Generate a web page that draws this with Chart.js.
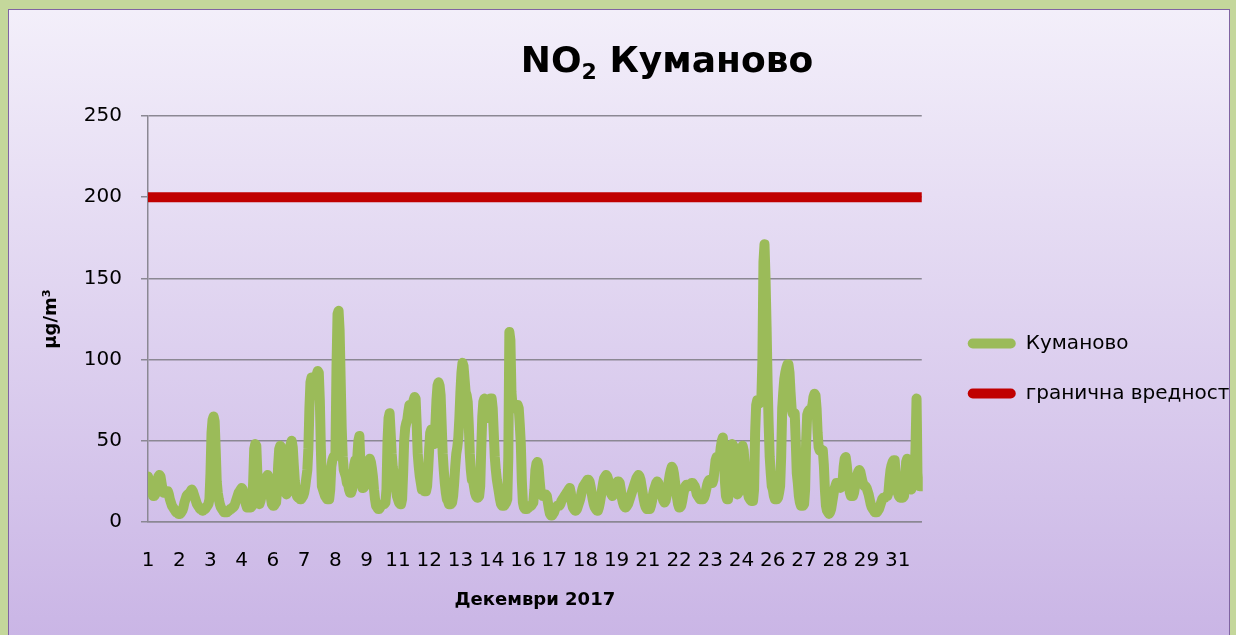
<!DOCTYPE html>
<html>
<head>
<meta charset="utf-8">
<script src="https://cdn.jsdelivr.net/npm/chart.js@4.4.1/dist/chart.umd.min.js"></script>
<style>
  html, body { margin: 0; padding: 0; }
  body { width: 1236px; height: 635px; overflow: hidden; background: #c4d79b; position: relative; }
  #frame { position: absolute; left: 8px; top: 9px; width: 1220px; height: 640px; border: 1px solid #8064a2;
           background: linear-gradient(to bottom, #f3effa 0%, #c9b4e5 100%); }
  #title { position: absolute; left: 0; top: 38px; width: 1334px; text-align: center; color: #000;
           font: bold 36px 'DejaVu Sans', sans-serif; line-height: 44px; }
  #title sub { font-size: 22px; vertical-align: -7px; line-height: 0; }
  #chart { position: absolute; left: 0; top: 0; }
</style>
</head>
<body>
<div id="frame"></div>
<canvas id="chart" width="1240" height="635"></canvas>
<div id="title">NO<sub>2</sub> Куманово</div>
<script>
// Декември 2017, часовни вредности (24 по ден)
const days = [1, 2, 3, 4, 5, 6, 7, 8, 9, 10, 11, 12, 13, 14, 15, 16, 17, 18, 19, 20, 21, 22, 23, 24, 25, 26, 27, 28, 29, 30, 31];

const week1 = [
  28, 26, 23, 20, 18, 16, 16, 17, 21, 26, 28, 29, 28, 24, 20, 18, 18, 19, 19, 19, 17, 14, 12, 10,
  9, 8, 7, 6, 6, 5, 5, 5, 6, 7, 9, 12, 14, 16, 17, 17, 18, 19, 20, 19, 17, 15, 13, 11,
  10, 9, 8, 8, 7, 7, 8, 8, 9, 10, 11, 14, 30, 55, 63, 65, 62, 45, 25, 18, 14, 11, 9, 8,
  7, 6, 6, 6, 6, 7, 7, 8, 8, 9, 9, 10, 12, 14, 16, 18, 19, 20, 21, 20, 17, 14, 11, 9,
  9, 9, 9, 9, 10, 25, 45, 48, 47, 30, 12, 11, 13, 16, 18, 20, 23, 26, 28, 29, 27, 22, 15, 11,
  10, 10, 11, 12, 20, 35, 45, 47, 46, 35, 24, 19, 18, 17, 18, 22, 35, 48, 50, 46, 35, 25, 19, 16,
  15, 15, 14, 14, 15, 16, 18, 22, 27, 32, 45, 70, 86, 89, 86, 84, 85, 88, 91, 93, 92, 75, 45, 22
];
const week2 = [
  20, 18, 16, 15, 14, 14, 14, 20, 34, 38, 40, 40, 42, 95, 128, 130, 118, 88, 58, 40, 32, 30, 28, 24,
  24, 20, 18, 18, 20, 25, 35, 38, 36, 40, 50, 53, 35, 24, 21, 21, 22, 25, 30, 35, 38, 39, 37, 33,
  28, 20, 14, 10, 9, 8, 8, 9, 10, 11, 11, 11, 12, 20, 50, 64, 67, 55, 42, 34, 30, 27, 22, 16,
  14, 12, 11, 11, 14, 30, 50, 58, 61, 63, 68, 72, 70, 66, 70, 75, 77, 76, 60, 42, 34, 28, 24, 20,
  20, 19, 19, 19, 22, 32, 45, 55, 57, 56, 50, 48, 60, 75, 84, 86, 84, 78, 60, 42, 32, 24, 18, 14,
  13, 11, 11, 11, 12, 16, 24, 34, 42, 46, 52, 64, 80, 92, 98, 96, 88, 80, 78, 74, 60, 42, 32, 26,
  26, 22, 18, 16, 15, 15, 16, 22, 45, 65, 74, 76, 74, 68, 64, 66, 72, 76, 76, 70, 55, 40, 32, 26
];
const week3 = [
  22, 18, 14, 11, 10, 10, 10, 11, 12, 14, 40, 117, 112, 80, 72, 71, 70, 71, 72, 72, 70, 60, 48, 25,
  12, 9, 8, 8, 8, 9, 9, 10, 10, 11, 12, 20, 32, 36, 37, 34, 26, 19, 17, 16, 16, 17, 17, 16,
  12, 8, 5, 4, 4, 5, 6, 8, 9, 10, 10, 10, 11, 13, 14, 15, 16, 17, 18, 19, 20, 21, 18, 12,
  9, 8, 7, 7, 8, 10, 12, 14, 17, 20, 22, 23, 24, 25, 26, 26, 25, 22, 18, 14, 11, 9, 8, 7,
  7, 9, 12, 16, 20, 24, 27, 28, 29, 28, 26, 22, 19, 17, 16, 17, 19, 22, 24, 25, 25, 24, 20, 15,
  12, 10, 9, 9, 10, 11, 13, 15, 17, 19, 21, 23, 25, 27, 28, 29, 28, 26, 22, 18, 14, 11, 9, 8,
  9, 8, 8, 10, 13, 17, 20, 22, 24, 25, 24, 22, 20, 17, 15, 13, 12, 13, 16, 20, 25, 29, 32, 34
];
const week4 = [
  33, 30, 25, 20, 15, 11, 9, 9, 10, 13, 17, 20, 22, 23, 23, 22, 22, 23, 24, 24, 23, 22, 20, 17,
  16, 15, 14, 14, 14, 14, 15, 17, 20, 23, 25, 26, 25, 24, 24, 26, 32, 38, 40, 38, 36, 40, 46, 50,
  52, 40, 25, 16, 14, 14, 20, 35, 45, 48, 47, 38, 25, 18, 17, 18, 25, 38, 45, 47, 44, 36, 28, 20,
  18, 15, 14, 13, 13, 13, 20, 55, 72, 75, 75, 73, 74, 76, 100, 160, 171, 150, 120, 85, 60, 40, 30, 22,
  20, 16, 14, 14, 14, 15, 18, 22, 40, 70, 80, 88, 92, 95, 97, 97, 92, 80, 70, 67, 66, 67, 50, 30,
  24, 16, 12, 10, 10, 10, 11, 20, 50, 66, 68, 69, 68, 68, 72, 77, 79, 78, 70, 55, 46, 44, 45, 44,
  44, 35, 20, 10, 7, 6, 5, 6, 8, 12, 16, 20, 22, 24, 24, 23, 22, 21, 22, 25, 34, 39, 40, 35
];
const week5 = [
  28, 22, 18, 16, 16, 16, 18, 22, 26, 29, 31, 32, 31, 28, 25, 23, 22, 22, 21, 19, 17, 14, 11, 9,
  8, 7, 6, 6, 6, 7, 8, 10, 12, 14, 15, 15, 15, 16, 16, 18, 26, 32, 35, 37, 38, 38, 30, 20,
  18, 16, 15, 15, 15, 15, 16, 25, 37, 39, 38, 30, 22, 20, 22, 24, 25, 45, 76, 30, 23, 22, 22, 22
];

const limitValue = 200;   // гранична вредност
const yTicks = [0, 50, 100, 150, 200, 250];
const labelEvery = 30;    // Excel ја прикажува секоја 30-та категорија
const seriesNames = ['Куманово', 'гранична вредност'];

// табела за библиотеката
const hourLabels = [];
days.forEach(d => { for (let h = 0; h < 24; h++) hourLabels.push(String(d)); });
const kumanovo = [].concat(week1, week2, week3, week4, week5);
const limitLine = hourLabels.map(() => limitValue);

Chart.defaults.font.family = "'DejaVu Sans', sans-serif";
Chart.defaults.color = '#000';

const gridColor = '#8b8893';
const legendFont = 20, legendBox = 48, legendPad = 30;

// ширина на платното така што графикот да заврши на x=922
const measure = document.createElement('canvas').getContext('2d');
measure.font = legendFont + "px 'DejaVu Sans', sans-serif";
const longest = Math.max(...seriesNames.map(t => measure.measureText(t).width));
const canvas = document.getElementById('chart');
canvas.width = Math.ceil(946 + legendPad + legendBox + legendFont / 2 + longest);

new Chart(canvas, {
    type: 'line',
    data: {
        labels: hourLabels,
        datasets: [
            {
                label: seriesNames[0],
                data: kumanovo,
                borderColor: '#9bbb59',
                backgroundColor: '#9bbb59',
                borderWidth: 10,
                pointRadius: 0,
                pointHoverRadius: 0,
                tension: 0,
                borderJoinStyle: 'round',
                borderCapStyle: 'round',
                clip: { left: 0, right: 1, top: false, bottom: false }
            },
            {
                label: seriesNames[1],
                data: limitLine,
                borderColor: '#c00000',
                backgroundColor: '#c00000',
                borderWidth: 10,
                pointRadius: 0,
                pointHoverRadius: 0,
                borderCapStyle: 'butt',
                clip: { left: 0, right: 2, top: false, bottom: false }
            }
        ]
    },
    options: {
        responsive: false,
        animation: false,
        events: [],
        layout: { padding: { top: 116, left: 37, right: 0, bottom: 20 } },
        scales: {
            x: {
                type: 'category',
                offset: false,
                grid: { display: false, drawTicks: false },
                border: { display: true, color: gridColor, width: 1.5 },
                ticks: {
                    autoSkip: false,
                    maxRotation: 0,
                    minRotation: 0,
                    padding: 27,
                    font: { size: 20 },
                    callback: function(value, index) {
                        return index % labelEvery === 0 ? this.getLabelForValue(value) : null;
                    }
                },
                title: {
                    display: true,
                    text: 'Декември 2017',
                    font: { size: 18, weight: 'bold' },
                    padding: { top: 4, bottom: 4 }
                },
                afterFit: scale => { scale.height = 93; }
            },
            y: {
                min: 0,
                max: 250,
                afterBuildTicks: scale => { scale.ticks = yTicks.map(v => ({ value: v })); },
                ticks: { padding: 19, font: { size: 20 } },
                grid: { color: gridColor, lineWidth: 1.5, tickLength: 7 },
                border: { color: gridColor, width: 1.5 },
                title: {
                    display: true,
                    text: 'µg/m³',
                    font: { size: 18, weight: 'bold' },
                    padding: { top: 4, bottom: 4 }
                },
                afterFit: scale => { scale.width = 111; }
            },
            // празен простор меѓу графикот и легендата (невидлива оска)
            gap: {
                type: 'linear',
                position: 'right',
                display: false,
                afterFit: scale => { scale.width = 16; }
            }
        },
        plugins: {
            title: { display: false },
            tooltip: { enabled: false },
            legend: {
                display: true,
                position: 'right',
                title: { display: true, text: '', font: { size: 5 }, padding: 0 },
                labels: {
                    font: { size: legendFont },
                    boxWidth: legendBox,
                    boxHeight: 10,
                    padding: legendPad,
                    useBorderRadius: true,
                    borderRadius: 5,
                    generateLabels: chart =>
                        Chart.defaults.plugins.legend.labels.generateLabels(chart)
                            .map(item => ({ ...item, lineWidth: 0 }))
                }
            }
        }
    }
});
</script>
</body>
</html>
